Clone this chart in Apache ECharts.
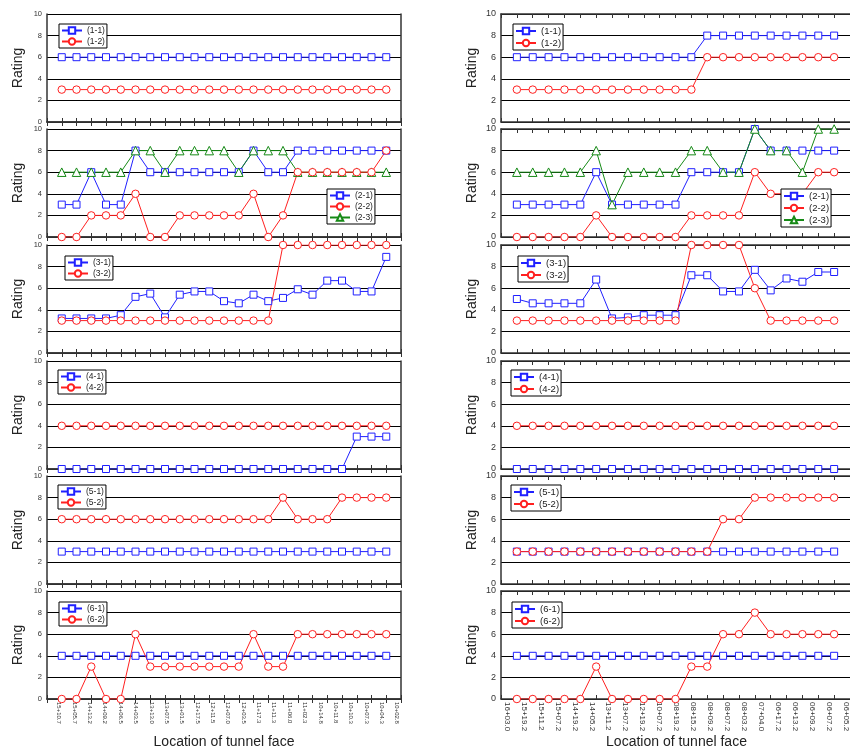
<!DOCTYPE html>
<html>
<head>
<meta charset="utf-8">
<script src="https://cdn.jsdelivr.net/npm/echarts@6/dist/echarts.min.js"></script>
<style>
  html, body { margin: 0; padding: 0; background: #fff; }
  #chart { width: 850px; height: 751px; }
</style>
</head>
<body>
<div id="chart"></div>
<script>
// tunnel face locations (x categories)
const leftLocations = ["15+10.7", "15+05.7", "14+13.2", "14+09.2", "14+06.5", "14+03.5", "13+13.0", "13+07.5",
  "13+01.5", "12+17.5", "12+11.5", "12+07.0", "12+03.5", "11+17.3", "11+11.3", "11+06.0", "11+02.3",
  "10+14.8", "10+11.8", "10+10.3", "10+07.3", "10+04.3", "10+02.8"];
const rightLocations = ["16+03.0", "15+19.2", "15+11.2", "15+07.2", "14+19.2", "14+05.2", "13+11.2", "13+07.2",
  "12+19.2", "10+07.2", "08+19.2", "08+15.2", "08+09.2", "08+07.2", "08+03.2", "07+04.0", "06+17.2",
  "06+13.2", "06+09.2", "06+07.2", "06+05.2"];

const yTicks = [0, 2, 4, 6, 8, 10];

// left column ratings
const L1_1 = [6, 6, 6, 6, 6, 6, 6, 6, 6, 6, 6, 6, 6, 6, 6, 6, 6, 6, 6, 6, 6, 6, 6];
const L1_2 = [3, 3, 3, 3, 3, 3, 3, 3, 3, 3, 3, 3, 3, 3, 3, 3, 3, 3, 3, 3, 3, 3, 3];
const L2_1 = [3, 3, 6, 3, 3, 8, 6, 6, 6, 6, 6, 6, 6, 8, 6, 6, 8, 8, 8, 8, 8, 8, 8];
const L2_2 = [0, 0, 2, 2, 2, 4, 0, 0, 2, 2, 2, 2, 2, 4, 0, 2, 6, 6, 6, 6, 6, 6, 8];
const L2_3 = [6, 6, 6, 6, 6, 8, 8, 6, 8, 8, 8, 8, 6, 8, 8, 8, 6, 6, 6, 6, 6, 6, 6];
const L3_1 = [3.2, 3.2, 3.2, 3.2, 3.5, 5.2, 5.5, 3.3, 5.4, 5.7, 5.7, 4.8, 4.6, 5.4, 4.8, 5.1, 5.9, 5.4, 6.7, 6.7, 5.7, 5.7, 8.9];
const L3_2 = [3, 3, 3, 3, 3, 3, 3, 3, 3, 3, 3, 3, 3, 3, 3, 10, 10, 10, 10, 10, 10, 10, 10];
const L4_1 = [0, 0, 0, 0, 0, 0, 0, 0, 0, 0, 0, 0, 0, 0, 0, 0, 0, 0, 0, 0, 3, 3, 3];
const L4_2 = [4, 4, 4, 4, 4, 4, 4, 4, 4, 4, 4, 4, 4, 4, 4, 4, 4, 4, 4, 4, 4, 4, 4];
const L5_1 = [3, 3, 3, 3, 3, 3, 3, 3, 3, 3, 3, 3, 3, 3, 3, 3, 3, 3, 3, 3, 3, 3, 3];
const L5_2 = [6, 6, 6, 6, 6, 6, 6, 6, 6, 6, 6, 6, 6, 6, 6, 8, 6, 6, 6, 8, 8, 8, 8];
const L6_1 = [4, 4, 4, 4, 4, 4, 4, 4, 4, 4, 4, 4, 4, 4, 4, 4, 4, 4, 4, 4, 4, 4, 4];
const L6_2 = [0, 0, 3, 0, 0, 6, 3, 3, 3, 3, 3, 3, 3, 6, 3, 3, 6, 6, 6, 6, 6, 6, 6];

// right column ratings
const R1_1 = [6, 6, 6, 6, 6, 6, 6, 6, 6, 6, 6, 6, 8, 8, 8, 8, 8, 8, 8, 8, 8];
const R1_2 = [3, 3, 3, 3, 3, 3, 3, 3, 3, 3, 3, 3, 6, 6, 6, 6, 6, 6, 6, 6, 6];
const R2_1 = [3, 3, 3, 3, 3, 6, 3, 3, 3, 3, 3, 6, 6, 6, 6, 10, 8, 8, 8, 8, 8];
const R2_2 = [0, 0, 0, 0, 0, 2, 0, 0, 0, 0, 0, 2, 2, 2, 2, 6, 4, 4, 4, 6, 6];
const R2_3 = [6, 6, 6, 6, 6, 8, 3, 6, 6, 6, 6, 8, 8, 6, 6, 10, 8, 8, 6, 10, 10];
const R3_1 = [5.0, 4.6, 4.6, 4.6, 4.6, 6.8, 3.2, 3.3, 3.5, 3.5, 3.5, 7.2, 7.2, 5.7, 5.7, 7.7, 5.8, 6.9, 6.6, 7.5, 7.5];
const R3_2 = [3, 3, 3, 3, 3, 3, 3, 3, 3, 3, 3, 10, 10, 10, 10, 6, 3, 3, 3, 3, 3];
const R4_1 = [0, 0, 0, 0, 0, 0, 0, 0, 0, 0, 0, 0, 0, 0, 0, 0, 0, 0, 0, 0, 0];
const R4_2 = [4, 4, 4, 4, 4, 4, 4, 4, 4, 4, 4, 4, 4, 4, 4, 4, 4, 4, 4, 4, 4];
const R5_1 = [3, 3, 3, 3, 3, 3, 3, 3, 3, 3, 3, 3, 3, 3, 3, 3, 3, 3, 3, 3, 3];
const R5_2 = [3, 3, 3, 3, 3, 3, 3, 3, 3, 3, 3, 3, 3, 6, 6, 8, 8, 8, 8, 8, 8];
const R6_1 = [4, 4, 4, 4, 4, 4, 4, 4, 4, 4, 4, 4, 4, 4, 4, 4, 4, 4, 4, 4, 4];
const R6_2 = [0, 0, 0, 0, 0, 3, 0, 0, 0, 0, 0, 3, 3, 6, 6, 8, 6, 6, 6, 6, 6];

// [name, values] per panel; drawing order: blue, green, red
const leftPanels = [
  [["(1-1)", L1_1], ["(1-2)", L1_2]],
  [["(2-1)", L2_1], ["(2-3)", L2_3], ["(2-2)", L2_2]],
  [["(3-1)", L3_1], ["(3-2)", L3_2]],
  [["(4-1)", L4_1], ["(4-2)", L4_2]],
  [["(5-1)", L5_1], ["(5-2)", L5_2]],
  [["(6-1)", L6_1], ["(6-2)", L6_2]]
];
const rightPanels = [
  [["(1-1)", R1_1], ["(1-2)", R1_2]],
  [["(2-1)", R2_1], ["(2-2)", R2_2], ["(2-3)", R2_3]],
  [["(3-1)", R3_1], ["(3-2)", R3_2]],
  [["(4-1)", R4_1], ["(4-2)", R4_2]],
  [["(5-1)", R5_1], ["(5-2)", R5_2]],
  [["(6-1)", R6_1], ["(6-2)", R6_2]]
];

const FONT = "'Liberation Sans', Arial, sans-serif";
const FRAME = { color: "#333", width: 1.5 };
const styleBySuffix = {
  "1": { color: "#2020ff", symbol: "rect", size: 7 },
  "2": { color: "#ff2020", symbol: "circle", size: 7.5 },
  "3": { color: "#168a16", symbol: "triangle", size: 8.5 }
};

const panelTops = [14, 129, 245, 361, 476, 591];
const panelHeight = 108;

const columns = [
  {
    left: 47, width: 354, locations: leftLocations, panels: leftPanels, rightFrame: true,
    labelLeft: 59, labelWidth: 338, yFont: 7.5, xFont: 6, legendFont: 8.5, namePad: [0, 8, 0, 0],
    legendPos: [[59, 24], [327, 189], [65, 256], [58, 370], [58, 485], [59, 602]]
  },
  {
    left: 501, width: 352, locations: rightLocations, panels: rightPanels, rightFrame: false,
    labelLeft: 507, labelWidth: 340, yFont: 9, xFont: 8, legendFont: 9.5, namePad: [0, 0, 0, 0],
    legendPos: [[513, 24], [781, 189], [518, 256], [511, 370], [511, 485], [512, 602]]
  }
];

const grid = [];
const xAxis = [];
const yAxis = [];
const series = [];
const legend = [];

columns.forEach(function (col) {
  const cats = [" "].concat(col.locations).concat(["  "]);
  col.panels.forEach(function (panel, p) {
    const g = grid.length;
    grid.push({ left: col.left, top: panelTops[p], width: col.width, height: panelHeight, show: false });
    const bottomIdx = xAxis.length;
    ["bottom", "top"].forEach(function (pos) {
      xAxis.push({
        gridIndex: g, type: "category", position: pos, data: cats, boundaryGap: false,
        axisLine: { show: true, lineStyle: FRAME },
        axisTick: { show: true, inside: true, length: 4, interval: 0, lineStyle: { color: "#333", width: 1 } },
        axisLabel: { show: false, interval: 0 },
        splitLine: { show: false }
      });
    });
    const yIdx = yAxis.length;
    yAxis.push({
      gridIndex: g, type: "value", position: "left", min: yTicks[0], max: yTicks[yTicks.length - 1], interval: 2,
      name: "Rating", nameLocation: "middle", nameGap: 22,
      nameTextStyle: { fontSize: 14, color: "#222", fontFamily: FONT },
      axisLine: { show: true, lineStyle: FRAME }, axisTick: { show: false },
      axisLabel: { fontSize: col.yFont, color: "#333", margin: 5, fontFamily: FONT },
      splitLine: { show: true, lineStyle: { color: "#000", width: 1 } }
    });
    if (col.rightFrame) {
      yAxis.push({
        gridIndex: g, type: "value", position: "right", min: 0, max: 10, interval: 2,
        axisLine: { show: true, lineStyle: FRAME }, axisTick: { show: false },
        axisLabel: { show: false }, splitLine: { show: false }
      });
    }
    panel.forEach(function (entry) {
      const name = entry[0];
      const st = styleBySuffix[name.charAt(3)];
      series.push({
        name: name, type: "line", xAxisIndex: bottomIdx, yAxisIndex: yIdx,
        data: entry[1].map(function (v, i) { return [col.locations[i], v]; }),
        symbol: st.symbol, symbolSize: st.size, showAllSymbol: true,
        lineStyle: { color: st.color, width: 1 },
        itemStyle: { color: "#fff", borderColor: st.color, borderWidth: 1 },
        emphasis: { disabled: true }
      });
    });
    const names = panel.map(function (e) { return e[0]; }).sort();
    legend.push({
      left: col.legendPos[p][0], top: col.legendPos[p][1], orient: "vertical",
      data: names, selectedMode: false,
      backgroundColor: "#fff", borderColor: "#000", borderWidth: 1, padding: [2, 2, 2, 2],
      itemWidth: 20, itemHeight: 8, itemGap: 2, itemTextGap: 2,
      textStyle: { fontSize: col.legendFont, color: "#222", fontFamily: FONT }
    });
  });

  // separate axis for location labels below the bottom panel
  const lg = grid.length;
  grid.push({ left: col.labelLeft, top: panelTops[5], width: col.labelWidth, height: panelHeight, show: false });
  xAxis.push({
    gridIndex: lg, type: "category", position: "bottom", data: col.locations, boundaryGap: false,
    axisLine: { show: false }, axisTick: { show: false }, splitLine: { show: false },
    axisLabel: { rotate: -90, interval: 0, fontSize: col.xFont, color: "#333", margin: 3, fontFamily: FONT },
    name: "Location of tunnel face", nameLocation: "middle", nameGap: 36,
    nameTextStyle: { fontSize: 14, color: "#222", fontFamily: FONT, padding: col.namePad }
  });
  yAxis.push({ gridIndex: lg, type: "value", show: false, min: 0, max: 10 });
});

const chart = echarts.init(document.getElementById("chart"), null, { renderer: "canvas" });
chart.setOption({
  animation: false,
  backgroundColor: "#fff",
  textStyle: { fontFamily: FONT },
  grid: grid,
  xAxis: xAxis,
  yAxis: yAxis,
  legend: legend,
  series: series
});
</script>
</body>
</html>
